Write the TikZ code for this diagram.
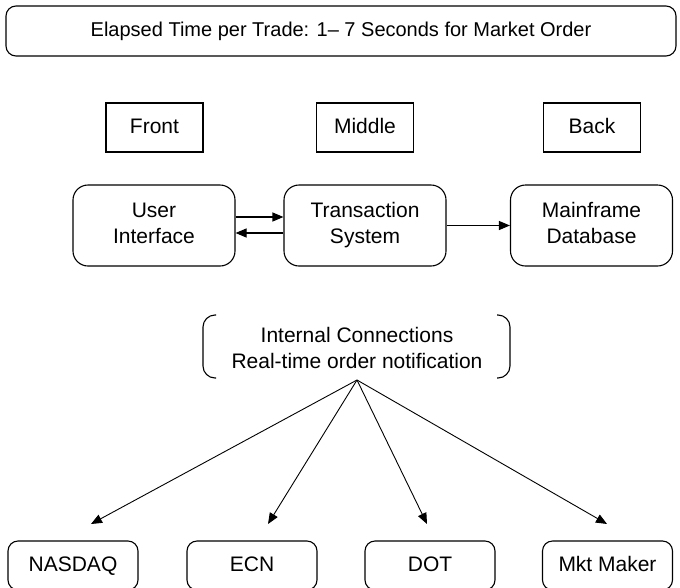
\documentclass[tikz,border=0pt]{standalone}
\usepackage{fontspec}
\setmainfont{Liberation Sans}
\usepackage{tikz}
\usetikzlibrary{arrows.meta, positioning}

\begin{document}
\begin{tikzpicture}[x=1pt, y=-1pt, line width=1.1pt,
  every node/.style={font=\fontsize{21}{25.5}\selectfont},
  tierbox/.style={draw, minimum width=97pt, minimum height=49pt, text height=15pt, text depth=4pt},
  sysbox/.style={draw, rounded corners=15pt, minimum width=162pt, minimum height=81pt, align=center},
  venuebox/.style={draw, rounded corners=10pt, minimum width=130pt, minimum height=49pt, text height=15pt, text depth=4pt},
  arr/.style={-{Triangle[length=11pt, width=9pt]}}]
  \useasboundingbox (0,0) rectangle (680,587);

  % Title
  \node[draw, rounded corners=10pt, minimum width=670pt, minimum height=50pt, font=\fontsize{20}{24}\selectfont] (title) at (341,31) {Elapsed Time per Trade: 1\textendash\ 7 Seconds for Market Order};

  % Tier labels
  \node[tierbox] (front) at (154.5,127.5) {Front};
  \node[tierbox] (middle) at (365,127.5) {Middle};
  \node[tierbox] (back) at (592,127.5) {Back};

  % Systems
  \node[sysbox] (ui) at (154,225.5) {User\strut\\Interface\strut};
  \node[sysbox] (ts) at (365,225.5) {Transaction\strut\\System\strut};
  \node[sysbox] (mf) at (591.5,225.5) {Mainframe\strut\\Database\strut};

  \draw[arr] ([yshift=8.5pt]ui.east) -- ([yshift=8.5pt]ts.west);
  \draw[arr] ([yshift=-7.5pt]ts.west) -- ([yshift=-7.5pt]ui.east);
  \draw[arr] (ts.east) -- (mf.west);

  % Internal connections
  \node[align=center] (conn) at (357,348) {Internal Connections\\Real-time order notification};
  \draw[rounded corners=12pt] (216,315) -- (203,315) -- (203,378) -- (216,378);
  \draw[rounded corners=12pt] (497,315) -- (510,315) -- (510,378) -- (497,378);
  \coordinate (hub) at (357,380);

  % Market venues
  \node[venuebox] (nasdaq) at (73,565.5) {NASDAQ};
  \node[venuebox] (ecn) at (252,565.5) {ECN};
  \node[venuebox] (dot) at (430,565.5) {DOT};
  \node[venuebox] (maker) at (607.5,565.5) {Mkt Maker};

  \coordinate (tipnasdaq) at (91,524);
  \coordinate (tipecn) at (268,524);
  \coordinate (tipdot) at (427,524);
  \coordinate (tipmaker) at (607,524);
  \foreach \v in {nasdaq, ecn, dot, maker}
    \draw[arr, line width=0.9pt] (hub) -- (tip\v);
\end{tikzpicture}
\end{document}
